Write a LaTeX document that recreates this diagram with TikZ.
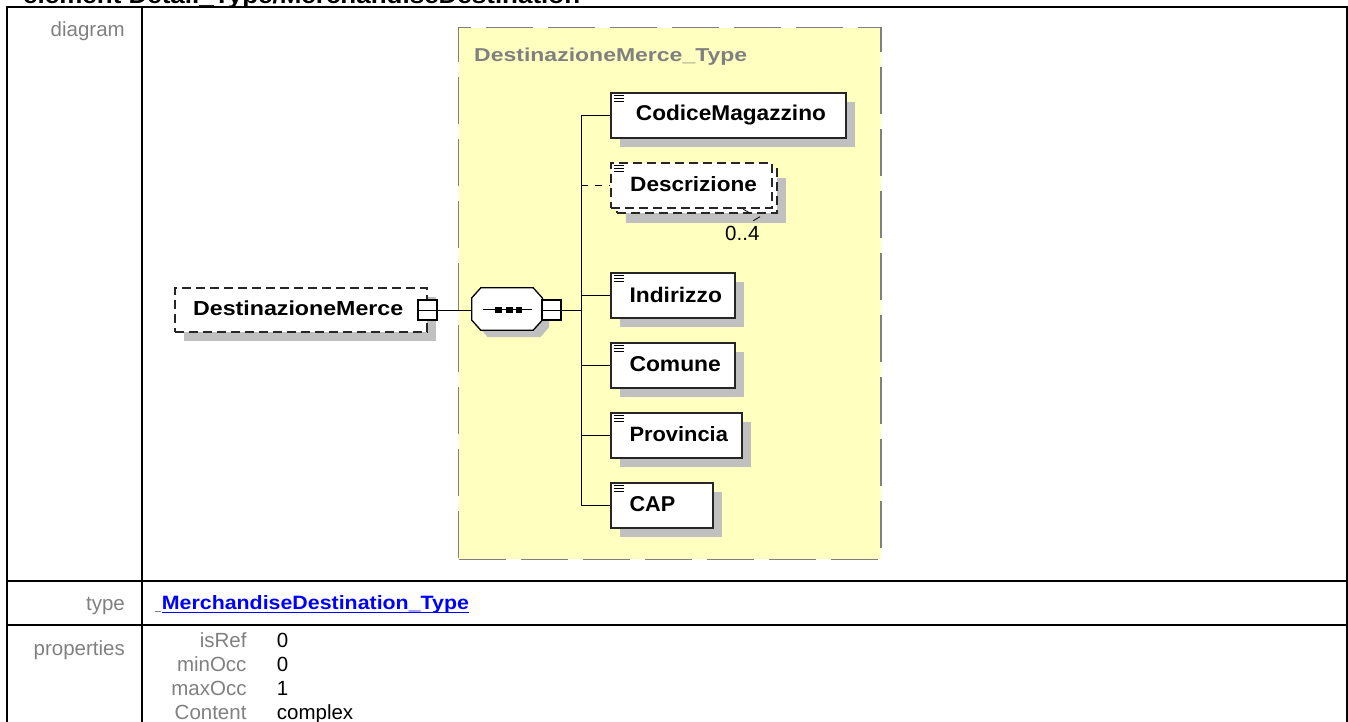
\documentclass[tikz,border=0pt]{standalone}
\usepackage{fontspec}
\setmainfont{Liberation Sans}
\usetikzlibrary{shadows,calc}
\definecolor{ylw}{RGB}{255,255,192}
\definecolor{shg}{RGB}{192,192,192}
\definecolor{lbl}{RGB}{128,128,128}
\definecolor{lnk}{RGB}{0,0,255}
\newcommand{\fitb}[3]{\resizebox{#1pt}{#2pt}{\bfseries #3}}
\newcommand{\reg}{\fontsize{20.5}{24}\selectfont}
\newcommand{\iconlines}[1]{\foreach \dy in {3.5,6.2,8.9} \draw[icon] ($(#1.north west)+(4,\dy)$) -- ++(10,0);}
\newcommand{\octo}[1]{($(#1.north west)+(9,0)$) -- ($(#1.north east)+(-9,0)$) -- ($(#1.north east)+(0,10)$) -- ($(#1.south east)+(0,-10)$) -- ($(#1.south east)+(-9,0)$) -- ($(#1.south west)+(9,0)$) -- ($(#1.south west)+(0,-10)$) -- ($(#1.north west)+(0,10)$) -- cycle}
\begin{document}
\begin{tikzpicture}[x=1pt,y=-1pt,
  tbl/.style={line width=2pt},
  lab/.style={anchor=base east, inner sep=0pt, text=lbl, font=\reg},
  val/.style={anchor=base west, inner sep=0pt, font=\reg},
  txt/.style={anchor=base west, inner sep=0pt},
  elem/.style={draw=black!85, line width=1.3pt, fill=white, inner sep=0pt, general shadow={fill=shg, shadow xshift=9pt, shadow yshift=-9pt}},
  optelem/.style={elem, dash pattern=on 9pt off 5pt},
  minus/.style={draw=black, line width=2pt, fill=white, minimum width=19pt, minimum height=20pt, inner sep=0pt},
  conn/.style={line width=1pt},
  icon/.style={line width=0.9pt}
]
\useasboundingbox (0,0) rectangle (1348,721);
\clip (0,0) rectangle (1348,721);

% heading (cut off at the top)
\node[txt] (head) at (23,3.5) {\fitb{557}{17}{element Detail\_Type/MerchandiseDestination}};

% table
\draw[tbl] (7,730) -- (7,7) -- (1346.5,7) -- (1346.5,730);
\draw[tbl] (141.7,7) -- (141.7,730);
\draw[tbl] (7,581) -- (1346.5,581);
\draw[tbl] (7,625) -- (1346.5,625);

\node[lab] (ldiag) at (125,36.7) {diagram};
\node[lab] (ltype) at (125,610) {type};
\node[lab] (lprop) at (125,655.5) {properties};

\node[lab] (k1) at (246.7,647.3) {isRef};
\node[lab] (k2) at (246.7,671.3) {minOcc};
\node[lab] (k3) at (246.7,695.3) {maxOcc};
\node[lab] (k4) at (246.7,719.3) {Content};
\node[val] (v1) at (276.7,647.3) {0};
\node[val] (v2) at (276.7,671.3) {0};
\node[val] (v3) at (276.7,695.3) {1};
\node[val] (v4) at (276.7,719.3) {complex};

\draw[lbl, line width=0.8pt] (155,611) -- (161,611);
\node[txt, text=lnk] (link) at (161.7,609.3) {\fitb{307}{14}{MerchandiseDestination\_Type}};
\draw[lnk, line width=1.6pt] (161.7,612.6) -- (469,612.6);

% complex type container
\node[draw=lbl, line width=1.5pt, dash pattern=on 47pt off 15pt, fill=ylw,
      minimum width=422.3pt, minimum height=531.8pt, inner sep=0pt] (ctype) at (669.85,293.4) {};
\node[txt, text=lbl] (ctitle) at (474,61) {\fitb{273}{13.5}{DestinazioneMerce\_Type}};

% main element
\node[optelem, minimum width=252pt, minimum height=44pt] (main) at (301,310) {};
\node[txt] (maint) at (193,315.7) {\fitb{210}{14.7}{DestinazioneMerce}};
\node[minus] (emin) at (427.5,310) {};
\draw[line width=1pt] (emin.west) -- (emin.east);

% sequence compositor
\node[minimum width=70pt, minimum height=42pt, inner sep=0pt] (seq) at (507,309) {};
\begin{scope}[transform canvas={xshift=7pt,yshift=-7pt}]
\fill[shg] \octo{seq};
\end{scope}
\draw[line width=1.3pt, fill=white] \octo{seq};
\draw[line width=1pt] (483,309.5) -- (532,309.5);
\fill (495,307) rectangle (502,312.5);
\fill (506,307) rectangle (512.5,312.5);
\fill (515.5,307) rectangle (522,312.5);
\node[minus] (smin) at (551.5,310) {};
\draw[line width=1pt] (smin.west) -- (smin.east);

\draw[conn] (emin.east) -- (emin.east -| seq.west);

% spine
\coordinate (sp) at (581,310);
\coordinate (sptop) at (581,115.5);
\coordinate (spbot) at (581,505.5);
\draw[conn] (smin.east) -- (sp);
\draw[conn] (sptop) -- (spbot);

% children
\node[elem, minimum width=235pt, minimum height=45pt] (cm) at (728.5,115.5) {};
\node[txt] (cmt) at (635.7,120.7) {\fitb{190}{15.5}{CodiceMagazzino}};
\iconlines{cm}

\node[optelem, minimum width=160pt, minimum height=44pt,
      general shadow={fill=shg, shadow xshift=9pt, shadow yshift=-10pt}] (deb) at (697,191) {};
\node[draw=black!85, line width=1.3pt, dash pattern=on 9pt off 5pt, fill=white, inner sep=0pt,
      minimum width=161pt, minimum height=45pt] (de) at (691.5,185.5) {};
\node[txt] (det) at (630,191.7) {\fitb{126.7}{15}{Descrizione}};
\iconlines{de}
\draw[line width=0.8pt] (743.3,209.3) -- (749.3,212.7);
\draw[line width=0.8pt] (753.3,220.7) -- (760,216.7);
\node[val] (mult) at (725,240) {0..4};

\node[elem, minimum width=124pt, minimum height=45pt] (ind) at (673,295.5) {};
\node[txt] (indt) at (629.3,302.7) {\fitb{92.4}{15.3}{Indirizzo}};
\iconlines{ind}

\node[elem, minimum width=124pt, minimum height=45pt] (com) at (673,365.5) {};
\node[txt] (comt) at (629.3,371.7) {\fitb{91.4}{15}{Comune}};
\iconlines{com}

\node[elem, minimum width=131pt, minimum height=45pt] (pro) at (676.5,435.5) {};
\node[txt] (prot) at (629.3,441.7) {\fitb{98.4}{15}{Provincia}};
\iconlines{pro}

\node[elem, minimum width=102pt, minimum height=45pt] (cap) at (662,505.5) {};
\node[txt] (capt) at (629.3,511.7) {\fitb{45.7}{15}{CAP}};
\iconlines{cap}

% connectors from spine
\draw[conn] (cm.west -| sp) -- (cm.west);
\draw[conn, dash pattern=on 7pt off 7pt] (de.west -| sp) -- (de.west);
\draw[conn] (ind.west -| sp) -- (ind.west);
\draw[conn] (com.west -| sp) -- (com.west);
\draw[conn] (pro.west -| sp) -- (pro.west);
\draw[conn] (cap.west -| sp) -- (cap.west);
\end{tikzpicture}
\end{document}
